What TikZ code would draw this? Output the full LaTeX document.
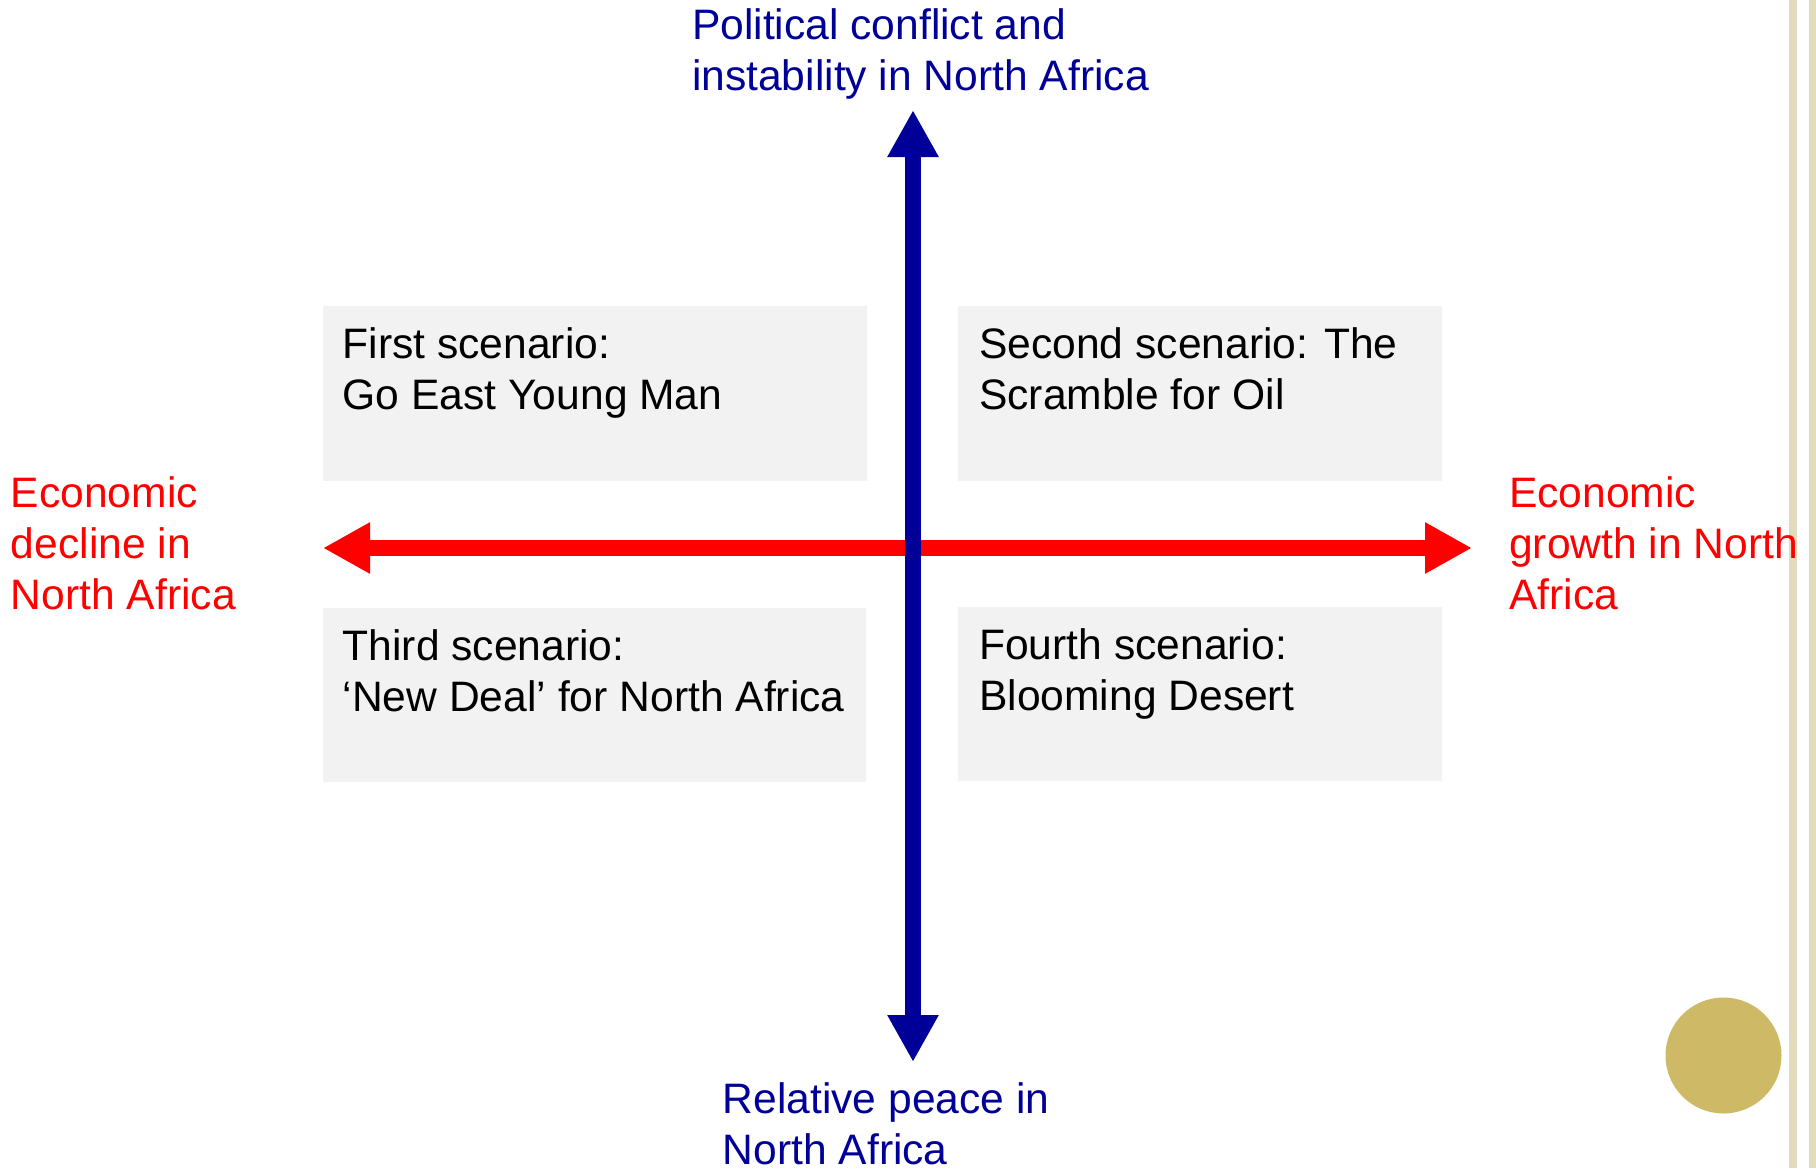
\documentclass[tikz,border=0pt]{standalone}
\usepackage{fontspec}
\setmainfont{Liberation Sans}
\usetikzlibrary{arrows.meta}
\definecolor{axblue}{HTML}{000099}
\definecolor{axred}{HTML}{FF0000}
\definecolor{boxgray}{HTML}{F2F2F2}
\definecolor{gold}{HTML}{CEB966}
\definecolor{rule}{HTML}{E3DBBD}
\tikzset{
  lbl/.style={anchor=north west, inner sep=0pt, align=left, font=\fontsize{21.3pt}{25.6pt}\selectfont},
  scenbox/.style={anchor=north west, fill=boxgray, draw=none, inner sep=0pt},
  bigarrow/.style={line width=8pt, {Triangle[length=23.5pt,width=24pt]}-{Triangle[length=23.5pt,width=24pt]}},
}
\begin{document}
\begin{tikzpicture}[x=0.5pt,y=-0.5pt]
\useasboundingbox (0,0) rectangle (1816,1168);
% right margin rules
\fill[rule] (1789,0) rectangle (1797,1168);
\fill[rule] (1809,0) rectangle (1816,1168);
% decorative circle
\fill[gold] (1723.5,1055.5) circle (58);
% scenario boxes
\node[scenbox, minimum width=272pt, minimum height=87.5pt] (b1) at (323,306) {};
\node[scenbox, minimum width=242pt, minimum height=87.5pt] (b2) at (958,306) {};
\node[scenbox, minimum width=271.5pt, minimum height=87pt] (b3) at (323,608) {};
\node[scenbox, minimum width=242pt, minimum height=87pt] (b4) at (958,607) {};
\node[lbl] (t1) at (342.3,322) {\strut First scenario:\\\strut Go East Young Man};
\node[lbl] (t2) at (978.8,322) {\strut Second scenario: The\\\strut Scramble for Oil};
\node[lbl] (t3) at (342.3,624) {\strut Third scenario:\\\strut ‘New Deal’ for North Africa};
\node[lbl] (t4) at (978.8,623) {\strut Fourth scenario:\\\strut Blooming Desert};
% axis end points
\coordinate (left) at (323,548);
\coordinate (right) at (1472,548);
\coordinate (top) at (913,110);
\coordinate (bot) at (913,1062);
\draw[bigarrow, axred] (left) -- (right);
\draw[bigarrow, axblue] (bot) -- (top);
% axis labels
\node[lbl, text=axblue] (ltop) at (691.6,3.5) {\strut Political conflict and\\\strut instability in North Africa};
\node[lbl, text=axblue] (lbot) at (722.4,1077) {\strut Relative peace in\\\strut North Africa};
\node[lbl, text=axred] (lleft) at (10.5,471) {\strut Economic\\\strut decline in\\\strut North Africa};
\node[lbl, text=axred] (lright) at (1508.8,471) {\strut Economic\\\strut growth in North\\\strut Africa};
\end{tikzpicture}
\end{document}
